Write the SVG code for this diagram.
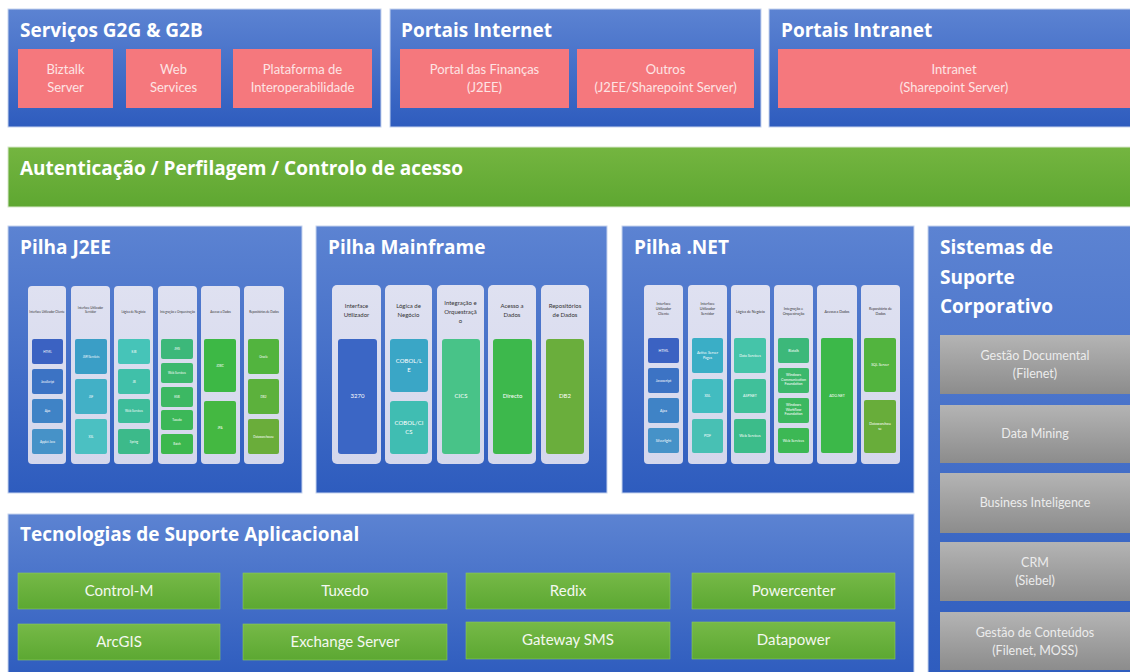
<svg xmlns="http://www.w3.org/2000/svg" width="1130" height="672" viewBox="0 0 1130 672">
<defs>
<linearGradient id="gBlue" x1="0" y1="0" x2="0" y2="1">
<stop offset="0" stop-color="#5c83d2"/>
<stop offset="1" stop-color="#2e5cbe"/>
</linearGradient>
<linearGradient id="gGreenBar" x1="0" y1="0" x2="0" y2="1">
<stop offset="0" stop-color="#74b540"/>
<stop offset="1" stop-color="#5ea731"/>
</linearGradient>
<linearGradient id="gBtn" x1="0" y1="0" x2="0" y2="1">
<stop offset="0" stop-color="#76b947"/>
<stop offset="1" stop-color="#5ca832"/>
</linearGradient>
<linearGradient id="gGray" x1="0" y1="0" x2="0" y2="1">
<stop offset="0" stop-color="#b4b4b4"/>
<stop offset="1" stop-color="#8c8c8c"/>
</linearGradient>
<linearGradient id="gCol" x1="0" y1="0" x2="0" y2="1">
<stop offset="0" stop-color="#dfe1f1"/>
<stop offset="1" stop-color="#d4d7ec"/>
</linearGradient>
</defs>
<style>
.panel{fill:url(#gBlue);stroke:#c6d3ee;stroke-width:1}
.pink{fill:#f5787d}
.pinkT{font-family:Lato,"Open Sans",sans-serif;font-size:13px;fill:#fde4e4;text-anchor:middle}
.title{font-family:"Open Sans",Lato,sans-serif;font-weight:bold;font-size:19px;fill:#ffffff}
.bar{fill:url(#gGreenBar);stroke:#d8e8cc;stroke-width:1}
.btn{fill:url(#gBtn);stroke:#8cc860;stroke-width:0.6}
.btnT{font-family:Lato,"Open Sans",sans-serif;font-size:15px;fill:#f4f8f0;text-anchor:middle}
.gray{fill:url(#gGray)}
.grayT{font-family:Lato,"Open Sans",sans-serif;font-size:12.5px;fill:#ececec;text-anchor:middle}
.col{fill:url(#gCol)}
.hS{font-family:Lato,"Open Sans",sans-serif;font-size:3px;fill:#333;text-anchor:middle}
.iS{font-family:Lato,"Open Sans",sans-serif;font-size:3px;fill:#ffffff;text-anchor:middle}
.hM{font-family:Lato,"Open Sans",sans-serif;font-size:6px;fill:#333;text-anchor:middle}
.iM{font-family:Lato,"Open Sans",sans-serif;font-size:6px;fill:#ffffff;text-anchor:middle}
.hN{font-family:Lato,"Open Sans",sans-serif;font-size:3.6px;fill:#333;text-anchor:middle}
.iN{font-family:Lato,"Open Sans",sans-serif;font-size:3.6px;fill:#ffffff;text-anchor:middle}
</style>
<rect width="1130" height="672" fill="#ffffff"/>

<g id="servicos-g2g-g2b">
<rect class="panel" x="8" y="9" width="373" height="118"/>
<text class="title" x="20" y="37">Serviços G2G &amp; G2B</text>
<rect class="pink" x="18" y="49" width="95" height="59"/>
<text class="pinkT" x="65.5" y="74">Biztalk</text>
<text class="pinkT" x="65.5" y="92">Server</text>
<rect class="pink" x="126" y="49" width="95" height="59"/>
<text class="pinkT" x="173.5" y="74">Web</text>
<text class="pinkT" x="173.5" y="92">Services</text>
<rect class="pink" x="233" y="49" width="139" height="59"/>
<text class="pinkT" x="302.5" y="74">Plataforma de</text>
<text class="pinkT" x="302.5" y="92">Interoperabilidade</text>
</g>

<g id="portais-internet">
<rect class="panel" x="390" y="9" width="371" height="118"/>
<text class="title" x="401" y="37">Portais Internet</text>
<rect class="pink" x="400" y="49" width="169" height="59"/>
<text class="pinkT" x="484.5" y="74">Portal das Finanças</text>
<text class="pinkT" x="484.5" y="92">(J2EE)</text>
<rect class="pink" x="577" y="49" width="177" height="59"/>
<text class="pinkT" x="665.5" y="74">Outros</text>
<text class="pinkT" x="665.5" y="92">(J2EE/Sharepoint Server)</text>
</g>

<g id="portais-intranet">
<rect class="panel" x="769" y="9" width="366" height="118"/>
<text class="title" x="781" y="37">Portais Intranet</text>
<rect class="pink" x="778" y="49" width="352" height="59"/>
<text class="pinkT" x="954" y="74">Intranet</text>
<text class="pinkT" x="954" y="92">(Sharepoint Server)</text>
</g>

<g id="autenticacao">
<rect class="bar" x="8" y="147" width="1127" height="60"/>
<text class="title" x="20" y="175">Autenticação / Perfilagem / Controlo de acesso</text>
</g>

<g id="pilha-j2ee">
<rect class="panel" x="8" y="226" width="294" height="267"/>
<text class="title" x="20" y="254">Pilha J2EE</text>
<rect class="col" x="28" y="286" width="38" height="178" rx="4"/>
<rect class="col" x="71" y="286" width="39" height="178" rx="4"/>
<rect class="col" x="114" y="286" width="39" height="178" rx="4"/>
<rect class="col" x="158" y="286" width="39" height="178" rx="4"/>
<rect class="col" x="201" y="286" width="39" height="178" rx="4"/>
<rect class="col" x="244" y="286" width="40" height="178" rx="4"/>
<text class="hS" x="47" y="313">Interface Utilizador Cliente</text>
<text class="hS" x="90.5" y="309">Interface Utilizador</text>
<text class="hS" x="90.5" y="313">Servidor</text>
<text class="hS" x="133.5" y="313">Lógica de Negócio</text>
<text class="hS" x="177.5" y="313">Integração e Orquestração</text>
<text class="hS" x="220.5" y="313">Acesso a Dados</text>
<text class="hS" x="264" y="313">Repositórios de Dados</text>
<rect x="32" y="339" width="31" height="25" rx="2" fill="#3b62c2"/>
<rect x="32" y="369" width="31" height="25" rx="2" fill="#3c73c4"/>
<rect x="32" y="399" width="31" height="24" rx="2" fill="#3f83c6"/>
<rect x="32" y="429" width="31" height="25" rx="2" fill="#4692c8"/>
<text class="iS" x="47.5" y="352.5">HTML</text>
<text class="iS" x="47.5" y="382.5">JavaScript</text>
<text class="iS" x="47.5" y="412">Ajax</text>
<text class="iS" x="47.5" y="442.5">Applet Java</text>
<rect x="75" y="339" width="32" height="35" rx="2" fill="#3a9ec6"/>
<rect x="75" y="379" width="32" height="35" rx="2" fill="#42b0c6"/>
<rect x="75" y="419" width="32" height="35" rx="2" fill="#4bc0c2"/>
<text class="iS" x="91" y="357.5">JSP/Servlets</text>
<text class="iS" x="91" y="397.5">JSF</text>
<text class="iS" x="91" y="437.5">XSL</text>
<rect x="118" y="339" width="32" height="25" rx="2" fill="#46c4b8"/>
<rect x="118" y="369" width="32" height="25" rx="2" fill="#40c0a9"/>
<rect x="118" y="399" width="32" height="24" rx="2" fill="#3dbd9a"/>
<rect x="118" y="429" width="32" height="25" rx="2" fill="#3cba8a"/>
<text class="iS" x="134" y="352.5">EJB</text>
<text class="iS" x="134" y="382.5">JB</text>
<text class="iS" x="134" y="412">Web Services</text>
<text class="iS" x="134" y="442.5">Spring</text>
<rect x="161" y="339" width="32" height="20" rx="2" fill="#3cb87a"/>
<rect x="161" y="363" width="32" height="20" rx="2" fill="#3cb86e"/>
<rect x="161" y="387" width="32" height="20" rx="2" fill="#3cb863"/>
<rect x="161" y="410" width="32" height="20" rx="2" fill="#3cb858"/>
<rect x="161" y="434" width="32" height="20" rx="2" fill="#3cb84e"/>
<text class="iS" x="177" y="350">JMS</text>
<text class="iS" x="177" y="374">Web Services</text>
<text class="iS" x="177" y="398">ESB</text>
<text class="iS" x="177" y="421">Tuxedo</text>
<text class="iS" x="177" y="445">Batch</text>
<rect x="204" y="339" width="32" height="53" rx="2" fill="#3db845"/>
<rect x="204" y="401" width="32" height="53" rx="2" fill="#44b841"/>
<text class="iS" x="220" y="366.5">JDBC</text>
<text class="iS" x="220" y="428.5">JPA</text>
<rect x="248" y="339" width="31" height="35" rx="2" fill="#52b43e"/>
<rect x="248" y="379" width="31" height="35" rx="2" fill="#5cb13c"/>
<rect x="248" y="419" width="31" height="35" rx="2" fill="#6aad3a"/>
<text class="iS" x="263.5" y="357.5">Oracle</text>
<text class="iS" x="263.5" y="397.5">DB2</text>
<text class="iS" x="263.5" y="437.5">Datawarehouse</text>
</g>

<g id="pilha-mainframe">
<rect class="panel" x="316" y="226" width="291" height="267"/>
<text class="title" x="328" y="254">Pilha Mainframe</text>
<rect class="col" x="332" y="285" width="49" height="179" rx="5"/>
<rect class="col" x="385" y="285" width="47" height="179" rx="5"/>
<rect class="col" x="437" y="285" width="47" height="179" rx="5"/>
<rect class="col" x="488" y="285" width="48" height="179" rx="5"/>
<rect class="col" x="541" y="285" width="48" height="179" rx="5"/>
<text class="hM" x="356.5" y="308">Interface</text>
<text class="hM" x="356.5" y="317">Utilizador</text>
<text class="hM" x="408.5" y="308">Lógica de</text>
<text class="hM" x="408.5" y="317">Negócio</text>
<text class="hM" x="460.5" y="305">Integração e</text>
<text class="hM" x="460.5" y="314">Orquestraçã</text>
<text class="hM" x="460.5" y="323">o</text>
<text class="hM" x="512" y="308">Acesso a</text>
<text class="hM" x="512" y="317">Dados</text>
<text class="hM" x="565" y="308">Repositórios</text>
<text class="hM" x="565" y="317">de Dados</text>
<rect x="338" y="339" width="39" height="115" rx="3" fill="#3b66c5"/>
<text class="iM" x="357.5" y="398">3270</text>
<rect x="390" y="339" width="38" height="53" rx="3" fill="#3aa6c6"/>
<rect x="390" y="401" width="38" height="53" rx="3" fill="#40bdb2"/>
<text class="iM" x="409" y="363">COBOL/L</text>
<text class="iM" x="409" y="372">E</text>
<text class="iM" x="409" y="425">COBOL/CI</text>
<text class="iM" x="409" y="434">CS</text>
<rect x="442" y="339" width="38" height="115" rx="3" fill="#48c388"/>
<text class="iM" x="461" y="398">CICS</text>
<rect x="493" y="339" width="39" height="115" rx="3" fill="#3db84c"/>
<text class="iM" x="512.5" y="398">Directo</text>
<rect x="546" y="339" width="38" height="115" rx="3" fill="#6aae3c"/>
<text class="iM" x="565" y="398">DB2</text>
</g>

<g id="pilha-net">
<rect class="panel" x="622" y="226" width="292" height="267"/>
<text class="title" x="634" y="254">Pilha .NET</text>
<rect class="col" x="644" y="285" width="39" height="179" rx="4"/>
<rect class="col" x="688" y="285" width="39" height="179" rx="4"/>
<rect class="col" x="731" y="285" width="39" height="179" rx="4"/>
<rect class="col" x="774" y="285" width="39" height="179" rx="4"/>
<rect class="col" x="817" y="285" width="40" height="179" rx="4"/>
<rect class="col" x="861" y="285" width="39" height="179" rx="4"/>
<text class="hN" x="663.5" y="305">Interface</text>
<text class="hN" x="663.5" y="310">Utilizador</text>
<text class="hN" x="663.5" y="315">Cliente</text>
<text class="hN" x="707.5" y="305">Interface</text>
<text class="hN" x="707.5" y="310">Utilizador</text>
<text class="hN" x="707.5" y="315">Servidor</text>
<text class="hN" x="750.5" y="313">Lógica de Negócio</text>
<text class="hN" x="793.5" y="310">Integração e</text>
<text class="hN" x="793.5" y="315">Orquestração</text>
<text class="hN" x="837" y="313">Acesso a Dados</text>
<text class="hN" x="880.5" y="310">Repositório de</text>
<text class="hN" x="880.5" y="315">Dados</text>
<rect x="648" y="338" width="31" height="25" rx="2" fill="#3b62c2"/>
<rect x="648" y="368" width="31" height="25" rx="2" fill="#3c73c4"/>
<rect x="648" y="398" width="31" height="25" rx="2" fill="#3f83c6"/>
<rect x="648" y="428" width="31" height="25" rx="2" fill="#4692c8"/>
<text class="iN" x="663.5" y="351.5">HTML</text>
<text class="iN" x="663.5" y="381.5">Javascript</text>
<text class="iN" x="663.5" y="411.5">Ajax</text>
<text class="iN" x="663.5" y="441.5">Silverlight</text>
<rect x="692" y="338" width="31" height="35" rx="2" fill="#3aaec6"/>
<rect x="692" y="379" width="31" height="34" rx="2" fill="#42bcc0"/>
<rect x="692" y="419" width="31" height="34" rx="2" fill="#48c0b4"/>
<text class="iN" x="707.5" y="354">Active Server</text>
<text class="iN" x="707.5" y="358.5">Pages</text>
<text class="iN" x="707.5" y="397">XSL</text>
<text class="iN" x="707.5" y="437">PDF</text>
<rect x="734" y="338" width="32" height="35" rx="2" fill="#45c4a9"/>
<rect x="734" y="379" width="32" height="34" rx="2" fill="#40c09a"/>
<rect x="734" y="419" width="32" height="34" rx="2" fill="#3cbc8a"/>
<text class="iN" x="750" y="356.5">Data Services</text>
<text class="iN" x="750" y="397">ASP.NET</text>
<text class="iN" x="750" y="437">Web Services</text>
<rect x="778" y="338" width="31" height="25" rx="2" fill="#3cb87a"/>
<rect x="778" y="368" width="31" height="25" rx="2" fill="#3cb86c"/>
<rect x="778" y="398" width="31" height="25" rx="2" fill="#3cb860"/>
<rect x="778" y="428" width="31" height="25" rx="2" fill="#3cb854"/>
<text class="iN" x="793.5" y="351.5">Biztalk</text>
<text class="iN" x="793.5" y="376">Windows</text>
<text class="iN" x="793.5" y="380.5">Communication</text>
<text class="iN" x="793.5" y="385">Foundation</text>
<text class="iN" x="793.5" y="406">Windows</text>
<text class="iN" x="793.5" y="410.5">Workflow</text>
<text class="iN" x="793.5" y="415">Foundation</text>
<text class="iN" x="793.5" y="441.5">Web Services</text>
<rect x="821" y="338" width="32" height="115" rx="2" fill="#3cb849"/>
<text class="iN" x="837" y="397">ADO.NET</text>
<rect x="864" y="338" width="32" height="54" rx="2" fill="#52b43e"/>
<rect x="864" y="400" width="32" height="53" rx="2" fill="#68ad3a"/>
<text class="iN" x="880" y="366">SQL Server</text>
<text class="iN" x="880" y="425">Datawarehou</text>
<text class="iN" x="880" y="430">se</text>
</g>

<g id="sistemas-suporte-corporativo">
<rect class="panel" x="928" y="226" width="207" height="451"/>
<text class="title" x="940" y="254">Sistemas de</text>
<text class="title" x="940" y="284">Suporte</text>
<text class="title" x="940" y="313">Corporativo</text>
<rect class="gray" x="940" y="335" width="190" height="59"/>
<text class="grayT" x="1035" y="360">Gestão Documental</text>
<text class="grayT" x="1035" y="378">(Filenet)</text>
<rect class="gray" x="940" y="405" width="190" height="58"/>
<text class="grayT" x="1035" y="438">Data Mining</text>
<rect class="gray" x="940" y="473" width="190" height="60"/>
<text class="grayT" x="1035" y="507">Business Inteligence</text>
<rect class="gray" x="940" y="542" width="190" height="59"/>
<text class="grayT" x="1035" y="567">CRM</text>
<text class="grayT" x="1035" y="585">(Siebel)</text>
<rect class="gray" x="940" y="612" width="190" height="58"/>
<text class="grayT" x="1035" y="637">Gestão de Conteúdos</text>
<text class="grayT" x="1035" y="655">(Filenet, MOSS)</text>
</g>

<g id="tecnologias-suporte-aplicacional">
<rect class="panel" x="8" y="514" width="906" height="163"/>
<text class="title" x="20" y="541">Tecnologias de Suporte Aplicacional</text>
<rect class="btn" x="18" y="573" width="202" height="36"/>
<text class="btnT" x="119" y="596">Control-M</text>
<rect class="btn" x="243" y="573" width="204" height="36"/>
<text class="btnT" x="345" y="596">Tuxedo</text>
<rect class="btn" x="466" y="573" width="204" height="36"/>
<text class="btnT" x="568" y="596">Redix</text>
<rect class="btn" x="692" y="573" width="203" height="36"/>
<text class="btnT" x="793.5" y="596">Powercenter</text>
<rect class="btn" x="18" y="624" width="202" height="36"/>
<text class="btnT" x="119" y="647">ArcGIS</text>
<rect class="btn" x="243" y="624" width="204" height="36"/>
<text class="btnT" x="345" y="647">Exchange Server</text>
<rect class="btn" x="466" y="622" width="204" height="37"/>
<text class="btnT" x="568" y="645">Gateway SMS</text>
<rect class="btn" x="692" y="622" width="203" height="37"/>
<text class="btnT" x="793.5" y="645">Datapower</text>
</g>
<g id="connectors"/>
</svg>
